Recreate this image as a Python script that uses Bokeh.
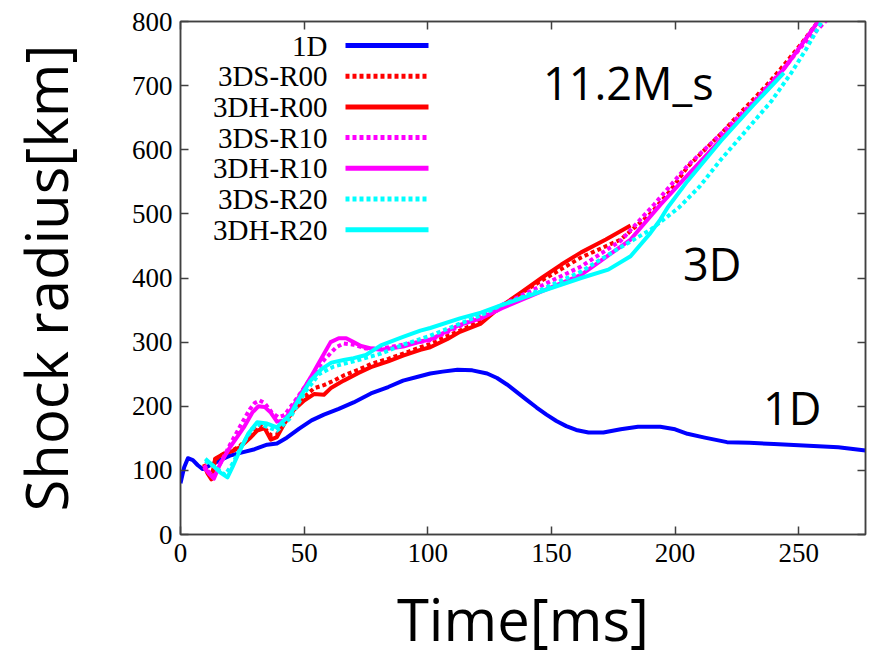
from bokeh.plotting import figure
from bokeh.models import (Range1d, FixedTicker, LinearAxis, Label, Arrow)
from bokeh.embed import file_html
from bokeh.resources import INLINE

# ---------------- data ----------------
t_1d = [0, 1.5, 3, 5, 7, 9, 12, 16, 20, 25, 30, 35, 39, 43, 48, 53, 58, 64, 70, 77,
        84, 90, 96, 101, 106, 112, 118, 124, 128, 132, 136, 140, 144, 148, 152, 156,
        160, 165, 171, 178, 185, 190, 194, 200, 205, 212, 221, 230, 240, 246, 256, 266,
        277]
r_1d = [80, 105, 119, 116, 108, 102, 108, 116, 123, 128, 133, 140, 142, 151, 165, 178,
        187, 196, 206, 220, 230, 240, 246, 251, 254, 257, 256, 251, 244, 234, 222, 210,
        198, 187, 177, 169, 163, 159, 159, 164, 168, 168, 168, 164, 157, 151, 144, 143,
        141, 140, 138, 136, 131]

t_3ds_r00 = [9.5, 11, 12.5, 14, 17.5, 21, 24, 28, 31, 33, 36.5, 39, 42, 46, 50, 54, 58,
             62, 66, 72, 77, 84, 90, 97, 101, 108, 113, 121.5, 130, 137.6, 146, 154, 162,
             170, 178, 190, 198, 205, 212, 218.6, 225, 232, 238, 244, 251, 258, 262]
r_3ds_r00 = [110, 96, 88, 117, 126, 131, 138, 153, 168, 170, 155, 156, 176, 199, 214, 228,
             233, 240, 248, 257, 266, 274, 282, 292, 297, 310, 318, 333, 355, 376, 396, 414,
             432, 446, 460, 500, 536, 573, 600, 625, 652, 680, 705, 732, 765, 801, 820]

t_3dh_r00 = [9.5, 11, 12.5, 14, 17.5, 21, 24, 28, 31, 34, 36.5, 39, 42, 46, 50, 54, 58,
             61, 66, 72, 77, 84, 90, 97, 101, 108, 113, 121.5, 130, 137.6, 146, 154, 162,
             172, 182]
r_3dh_r00 = [108, 95, 86, 118, 126, 130, 136, 150, 162, 166, 148, 152, 173, 195, 209, 219,
             218, 229, 240, 252, 261, 270, 279, 288, 292, 305, 316, 329, 357, 377, 400, 421,
             440, 460, 482]

t_3ds_r10 = [9.5, 11.5, 13, 16, 20, 25, 28, 30, 32, 34, 37, 39.5, 42, 47, 52, 58, 63, 66,
             70, 75, 81, 90, 101, 113, 130, 146, 162, 178, 191.6, 205, 218.6, 232, 244,
             252, 261, 265]
r_3ds_r10 = [108, 98, 90, 110, 140, 175, 195, 205, 209, 205, 190, 183, 186, 212, 240, 272,
             292, 298, 296, 290, 290, 296, 303, 325, 358, 388, 418, 458, 515, 575, 625, 676,
             727, 765, 801, 820]

t_3dh_r10 = [9.5, 11.5, 13.5, 16, 20, 25.6, 29, 31.5, 34, 36.5, 39, 42, 47, 52.6, 57,
             60.7, 64, 67, 70, 73, 77, 81, 90, 97, 101, 113, 121.5, 130, 146, 162, 182,
             194, 205, 218.6, 232, 244, 251, 258, 262]
r_3dh_r10 = [105, 95, 87, 110, 136, 167, 190, 200, 199, 190, 176, 178, 209, 245, 275, 300,
             306, 306, 300, 294, 290, 288, 293, 301, 304, 327, 337, 353, 379, 405, 460, 514,
             560, 616, 673, 726, 763, 801, 820]

t_3ds_r20 = [10, 14, 18, 21, 25, 29, 32, 35, 39, 44, 50, 56, 62, 70, 81, 90, 101, 121.5,
             130, 146, 162, 178, 190, 201.6, 210, 218.6, 224.7, 239, 247, 253, 259.5, 263]
r_3ds_r20 = [115, 105, 93, 110, 140, 165, 172, 168, 162, 180, 220, 250, 262, 270, 282, 296,
             310, 342, 358, 382, 410, 448, 475, 510, 543, 585, 612, 676, 720, 757, 801, 820]

t_3dh_r20 = [10, 13, 16, 19, 21, 24, 27.5, 31, 35, 39, 44.5, 48, 52.6, 57, 61, 66, 70, 75,
             81, 90, 97, 101, 113, 121.5, 130, 146, 162, 173, 182, 190, 194, 197, 205,
             218.6, 232, 244]
r_3dh_r20 = [118, 108, 97, 89, 105, 131, 158, 175, 173, 167, 188, 212, 240, 258, 268, 272,
             275, 280, 295, 308, 318, 322, 337, 346, 358, 379, 400, 413, 434, 470, 491, 510,
             551, 614, 671, 720]

series_names = ["1D", "3DS-R00", "3DH-R00", "3DS-R10", "3DH-R10", "3DS-R20", "3DH-R20"]
series_t = [t_1d, t_3ds_r00, t_3dh_r00, t_3ds_r10, t_3dh_r10, t_3ds_r20, t_3dh_r20]
series_r = [r_1d, r_3ds_r00, r_3dh_r00, r_3ds_r10, r_3dh_r10, r_3ds_r20, r_3dh_r20]
series_color = ["#0000ff", "#ff0000", "#ff0000", "#ff00ff", "#ff00ff", "#00ffff", "#00ffff"]
series_dash = ["solid", "4 3", "solid", "4 3", "solid", "4 3", "solid"]

x_ticks = [0, 50, 100, 150, 200, 250]
y_ticks = [0, 100, 200, 300, 400, 500, 600, 700, 800]

x_title = "Time[ms]"
y_title = "Shock radius[km]"
annotations = [("11.2M_s", 146.6, 705), ("3D", 203.2, 423), ("1D", 235.6, 198)]

# ---------------- figure ----------------
AX = "#404040"
p = figure(width=875, height=661, output_backend="svg", toolbar_location=None,
           x_range=Range1d(0, 277), y_range=Range1d(0, 800),
           min_border_left=180, min_border_right=10, min_border_top=21, min_border_bottom=127,
           x_axis_label=x_title, y_axis_label=y_title)
p.background_fill_color = "white"
p.border_fill_color = "white"
p.outline_line_color = AX
p.outline_line_width = 1.5
p.xgrid.visible = False
p.ygrid.visible = False

for ax, ticks in ((p.xaxis[0], x_ticks), (p.yaxis[0], y_ticks)):
    ax.ticker = FixedTicker(ticks=ticks)
    ax.minor_tick_line_color = None
    ax.major_tick_in = 8
    ax.major_tick_out = 0
    ax.major_tick_line_color = AX
    ax.major_tick_line_width = 1.5
    ax.axis_line_color = AX
    ax.axis_line_width = 1.5
    ax.major_label_text_font = "Liberation Serif"
    ax.major_label_text_font_size = "27px"
    ax.major_label_text_color = "black"
    ax.axis_label_text_font = "Open Sans"
    ax.axis_label_text_font_size = "58px"
    ax.axis_label_text_font_style = "normal"
    ax.axis_label_text_color = "black"

p.xaxis[0].major_label_standoff = 9
p.xaxis[0].axis_label_standoff = 14
p.yaxis[0].major_label_standoff = 8
p.yaxis[0].axis_label_standoff = 44

# mirrored ticks on top and right (no labels)
for side, ticks in (("above", x_ticks), ("right", y_ticks)):
    m = LinearAxis(ticker=FixedTicker(ticks=ticks))
    m.major_label_text_font_size = "0px"
    m.major_label_text_color = None
    m.major_label_standoff = 0
    m.minor_tick_line_color = None
    m.major_tick_in = 8
    m.major_tick_out = 0
    m.major_tick_line_color = AX
    m.major_tick_line_width = 1.5
    m.axis_line_color = AX
    m.axis_line_width = 1.5
    p.add_layout(m, side)

# curves
for name, t, r, c, d in zip(series_names, series_t, series_r, series_color, series_dash):
    p.line(t, r, line_color=c, line_width=4, line_dash=d, line_join="round")

# legend (label on left, sample on right), screen units relative to frame
row0, step = 489, 30.7
for i, (name, c, d) in enumerate(zip(series_names, series_color, series_dash)):
    yy = row0 - i * step
    p.add_layout(Label(x=147, y=yy, x_units="screen", y_units="screen", text=name,
                       text_font="Liberation Serif", text_font_size="29px",
                       text_align="right", text_baseline="middle", text_color="black"))
    p.add_layout(Arrow(end=None, start=None, x_start=165, y_start=yy, x_end=248, y_end=yy,
                       start_units="screen", end_units="screen",
                       line_color=c, line_width=5, line_dash=d))

for txt, xx, yy in annotations:
    p.add_layout(Label(x=xx, y=yy, text=txt, text_font="Open Sans", text_font_size="45px",
                       text_align="left", text_baseline="alphabetic", text_color="black"))

open("out.html", "w").write(file_html(p, INLINE))
